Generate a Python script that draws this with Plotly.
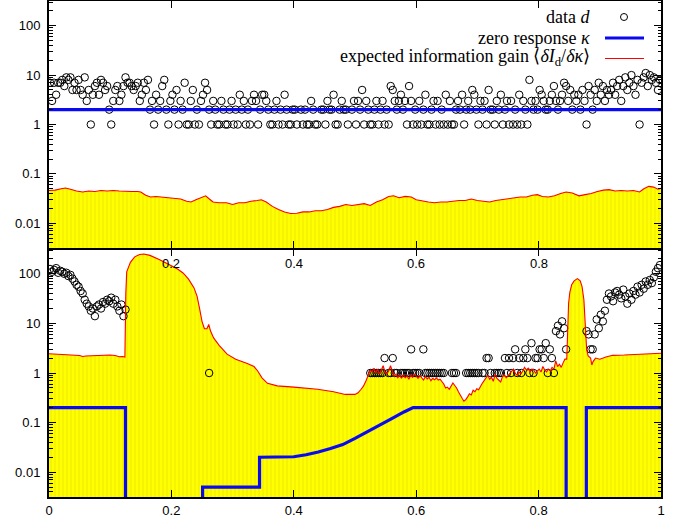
import numpy as np
import plotly.graph_objects as go

# ---------------- data ----------------
N = 300
x_data = (np.arange(N) + 0.5) / N

top_data = (
    [7,3,7,4,7,7,8,6,9,8,9,5,7,5,8,5,4,9,3,5,1,4,6,7,4]
    + [8,7,5,6,2,1,3,5,6,3,4,6,9,7,7,6,5,6,7,3,4,7,5,8,2]
    + [3,1,4,2,3,6,8,2,1,3,4,2,5,1,3,2,7,1,1,3,5,1,2,1,3]
    + [4,7,5,2,1,3,2,1,1,3,2,1,1,2,3,1,2,1,4,2,3,1,2,1,3]
    + [4,3,1,2,4,4,3,2,1,1,2,3,1,2,1,4,2,1,1,2,2,1,0,2,1]
    + [2,1,1,3,2,1,1,0,2,2,1,3,2,2,4,1,1,2,3,2,2,1,0,2,3]
    + [1,3,2,5,1,3,2,1,1,2,3,1,2,3,1,2,1,6,5,3,2,3,4,2,3]
    + [1,6,3,1,2,1,3,1,2,4,1,1,2,3,1,3,1,2,1,4,1,3,1,1,2]
    + [3,2,4,1,2,3,2,5,4,2,1,3,2,3,1,5,2,2,1,3,2,4,1,2,3]
    + [1,3,1,2,1,4,1,3,2,1,8,3,2,3,2,5,4,3,2,2,3,4,6,3,2]
    + [3,4,7,6,3,5,2,4,3,4,2,5,3,1,6,4,2,5,3,7,4,6,3,5,4]
    + [5,7,4,6,8,3,6,9,5,7,10,6,4,8,1,7,9,11,6,10,8,9,7,5,8]
)

bottom_data = (
    [125,110,120,130,105,115,110,100,105,90,95,80,70,60,55,45,40,30,25,22,
     18,20,14,22,24,20,27,25,30,28,33,25,30,22,18,24,14,19]
    + [0] * 40 + [1] + [0] * 78
    + [1,1,1,1,1,1,1,2,0,1,1,2,1,1,0,1,1,1,1,1,3,1,1,1,1,0,3,
       1,1,1,1,1,1,1,1,1,1,0,0,0,1,1,1,0,0,0,0,1,1,1,1,1,1,1,0,1,1,2,2,1,0,
       1,1,1,1,0,
       2,1,2,1,2,3,1,2,1,2,3,2,1,4,1,2,2,3,3,2,4,1,3,2,1,
       7,9,6,11,8,3]
    + [0] * 9
    + [7,6,3,3,6,12,8,15,11,18,30,40,35,28,42,45,38,32,48,35,25,40,30,
       45,38,55,42,60,50,70,60,75,65,85,110,130,150]
)

top_kappa_x = [0.0, 1.0]
top_kappa = [2.0, 2.0]

bottom_kappa_x = [0.0, 0.125, 0.125, 0.251, 0.251, 0.344, 0.344, 0.38, 0.40, 0.42,
                  0.44, 0.46, 0.48, 0.50, 0.52, 0.54, 0.56, 0.58, 0.595,
                  0.845, 0.845, 0.878, 0.878, 1.0]
bottom_kappa = [0.2, 0.2, 0, 0, 0.005, 0.005, 0.02, 0.02, 0.0205, 0.0225,
                0.0255, 0.030, 0.036, 0.048, 0.066, 0.089, 0.12, 0.164, 0.2,
                0.2, 0, 0, 0.2, 0.2]

top_gain_x = [0.000,0.010,0.020,0.027,0.035,0.045,0.055,0.065,0.075,0.085,0.095,0.105,
              0.115,0.125,0.135,0.145,0.150,0.158,0.166,0.175,0.185,0.195,0.205,0.215,
              0.225,0.232,0.240,0.250,0.256,0.262,0.268,0.278,0.290,0.300,0.310,0.320,
              0.330,0.340,0.347,0.355,0.365,0.375,0.385,0.395,0.405,0.415,0.425,0.435,
              0.445,0.455,0.465,0.475,0.485,0.495,0.505,0.515,0.525,0.535,0.545,0.555,
              0.563,0.572,0.582,0.592,0.600,0.610,0.620,0.630,0.640,0.650,0.660,0.670,
              0.680,0.690,0.700,0.710,0.720,0.730,0.740,0.750,0.760,0.770,0.780,0.790,
              0.798,0.806,0.816,0.826,0.836,0.845,0.855,0.866,0.876,0.886,0.896,0.906,
              0.915,0.925,0.935,0.945,0.955,0.965,0.972,0.980,0.988,0.995,1.000]
top_gain = [0.046,0.047,0.050,0.052,0.049,0.045,0.043,0.045,0.044,0.046,0.045,0.046,
            0.045,0.044,0.044,0.044,0.043,0.037,0.034,0.035,0.034,0.034,0.032,0.031,
            0.028,0.027,0.030,0.034,0.036,0.031,0.027,0.026,0.026,0.024,0.026,0.026,
            0.028,0.029,0.030,0.027,0.022,0.019,0.017,0.0158,0.016,0.017,0.017,0.018,
            0.018,0.019,0.021,0.022,0.024,0.023,0.024,0.025,0.023,0.027,0.030,0.035,
            0.036,0.033,0.035,0.034,0.030,0.028,0.027,0.026,0.027,0.027,0.028,0.029,
            0.029,0.031,0.029,0.028,0.027,0.029,0.030,0.031,0.033,0.034,0.034,0.037,
            0.038,0.035,0.034,0.036,0.040,0.043,0.041,0.036,0.038,0.040,0.044,0.047,
            0.048,0.045,0.046,0.045,0.046,0.043,0.050,0.056,0.054,0.049,0.051]

bottom_gain_x = [0.000,0.010,0.020,0.030,0.040,0.050,0.055,0.060,0.070,0.080,0.090,0.100,
                 0.108,0.115,0.120,0.124,0.1255,0.127,0.133,0.140,0.148,0.155,0.165,0.180,
                 0.200,0.210,0.219,0.228,0.237,0.242,0.246,0.250,0.254,0.258,0.261,0.264,
                 0.269,0.278,0.291,0.305,0.324,0.335,0.341,0.348,0.357,0.373,0.400,0.439,
                 0.465,0.484,0.500,
                 0.505,0.510,0.514,0.518,0.522,0.525,0.528,0.531,0.534,0.537,0.540,0.543,
                 0.546,0.549,0.552,0.555,0.558,0.561,0.564,0.567,0.570,0.573,0.576,0.579,
                 0.582,0.585,0.588,0.591,0.594,0.597,0.600,0.603,0.606,0.609,0.612,0.615,
                 0.618,0.621,0.624,0.627,0.630,0.633,0.636,0.639,0.642,0.645,0.648,0.651,
                 0.654,0.657,0.660,0.663,0.666,0.669,0.672,0.675,0.678,0.681,0.684,0.687,
                 0.690,0.693,0.696,0.699,0.702,0.705,0.708,0.711,0.714,0.717,0.720,0.723,
                 0.726,0.729,0.732,0.735,0.738,0.741,0.744,0.747,0.750,0.753,0.756,0.759,
                 0.762,0.765,0.768,0.771,0.774,0.777,0.780,0.783,0.786,0.789,0.792,0.795,
                 0.798,0.801,0.804,0.807,0.810,0.813,0.816,0.819,0.822,0.825,0.828,0.831,
                 0.834,0.837,0.840,0.843,0.846,
                 0.8475,0.849,0.851,0.854,0.858,0.8634,0.868,0.871,0.874,0.876,0.877,0.8785,
                 0.881,0.885,0.887,0.889,0.893,0.900,0.910,0.921,0.940,0.960,0.980,1.000]
bottom_gain = [2.45,2.42,2.38,2.35,2.30,2.25,2.15,2.20,2.22,2.25,2.28,2.30,
               2.25,2.12,2.15,2.10,40,110,170,220,245,250,235,195,
               145,125,104,78,52,35,20,11,7.8,7.8,9.5,7.0,
               5.1,3.6,2.4,1.9,1.55,1.35,1.1,0.8,0.62,0.55,0.52,0.47,
               0.42,0.37,0.37,
               0.40,0.47,0.55,0.70,0.95,1.15,1.05,1.25,1.0,1.2,0.95,1.15,
               1.4,1.05,0.95,1.1,1.4,1.1,0.85,0.95,0.8,0.9,0.78,0.92,
               0.8,0.88,0.75,0.9,0.82,0.95,0.85,0.78,0.88,0.8,0.72,0.85,
               0.76,0.82,0.7,0.78,0.73,0.8,0.72,0.75,0.68,0.6,0.5,0.52,
               0.47,0.55,0.63,0.56,0.5,0.42,0.35,0.31,0.27,0.29,0.33,0.38,
               0.36,0.45,0.42,0.48,0.46,0.55,0.62,0.7,0.78,0.9,0.75,0.82,
               0.68,0.95,0.78,0.72,0.66,0.85,0.92,0.8,0.88,0.95,1.1,1.2,
               0.98,0.9,1.05,0.95,1.1,1.3,1.15,1.25,1.05,1.2,1.15,1.0,
               1.1,1.2,1.05,1.35,1.15,1.05,1.2,1.1,1.3,1.2,1.75,1.35,
               1.5,1.3,1.6,1.9,1.9,
               8,25,42,60,72,80,72,55,30,12,6,3,
               2.2,2.0,1.45,1.7,2.0,1.9,2.1,2.27,2.3,2.35,2.4,2.5]

y_tick_vals = [0.01, 0.1, 1, 10, 100]
y_tick_text = ["0.01", "0.1", "1", "10", "100"]
x_tick_vals = [0, 0.2, 0.4, 0.6, 0.8, 1]
x_tick_text = ["0", "0.2", "0.4", "0.6", "0.8", "1"]
top_x_labels = ["0.2", "0.4", "0.6", "0.8"]
legend_labels = ["data <i>d</i>", "zero response <i>κ</i>",
                 "expected information gain ⟨<i>δI</i><sub>d</sub>/<i>δκ</i>⟩"]

# ---------------- style ----------------
FLOOR = 1e-5
BLUE = "#0a0af0"
RED = "#ff0000"
YELLOW = "#ffff00"
TICKFONT = dict(family="Liberation Sans, Arial, sans-serif", size=13, color="black")
SERIF = dict(family="Liberation Serif, Times New Roman, serif", size=18, color="black")

W, H = 688, 522
L, R, T, B = 49, 27, 1, 25
PW, PH = W - L - R, H - T - B


def px(xp):
    return (xp - L) / PW


def py(yp):
    return (H - B - yp) / PH


fig = go.Figure()


def add_panel(xa, ya, gx, gy, data, kx, ky):
    gx = list(gx)
    gy = list(gy)
    fig.add_trace(go.Scatter(
        x=gx + [gx[-1], gx[0]], y=gy + [FLOOR, FLOOR], mode="lines",
        fill="toself", fillcolor=YELLOW, line=dict(width=0),
        fillpattern=dict(shape="|", size=4, solidity=0.35,
                         fgcolor="#e6e000", bgcolor=YELLOW),
        xaxis=xa, yaxis=ya, hoverinfo="skip", showlegend=False))
    d = np.array(data, dtype=float)
    m = d > 0
    fig.add_trace(go.Scatter(
        x=x_data[m], y=d[m], mode="markers",
        marker=dict(symbol="circle-open", size=7.5, color="black",
                    line=dict(width=1, color="black")),
        xaxis=xa, yaxis=ya, showlegend=False))
    kyp = [k if k > 0 else FLOOR for k in ky]
    fig.add_trace(go.Scatter(
        x=kx, y=kyp, mode="lines", line=dict(color=BLUE, width=3.2),
        xaxis=xa, yaxis=ya, showlegend=False))
    fig.add_trace(go.Scatter(
        x=gx, y=gy, mode="lines", line=dict(color=RED, width=1.1),
        xaxis=xa, yaxis=ya, showlegend=False))


add_panel("x2", "y2", top_gain_x, top_gain, top_data, top_kappa_x, top_kappa)
add_panel("x", "y", bottom_gain_x, bottom_gain, bottom_data, bottom_kappa_x, bottom_kappa)

minor_vals = [m * 10.0 ** e for e in range(-3, 3) for m in range(2, 10)]

yax = dict(type="log", range=[-2.5, 2.5], tickmode="array", tickvals=y_tick_vals,
           ticktext=y_tick_text, ticks="inside", ticklen=7, tickwidth=1,
           tickcolor="black", showline=True, linecolor="black", linewidth=2,
           mirror="allticks", showgrid=False, zeroline=False, tickfont=TICKFONT,
           ticklabelstandoff=4, automargin=False,
           minor=dict(tickmode="array", tickvals=minor_vals, ticks="inside",
                      ticklen=3.5, tickcolor="black", showgrid=False))
xax = dict(range=[0, 1], tickmode="array", tickvals=x_tick_vals, ticktext=x_tick_text,
           ticks="inside", ticklen=7, tickwidth=1, tickcolor="black", showline=True,
           linecolor="black", linewidth=2, mirror="allticks", showgrid=False,
           zeroline=False, tickfont=TICKFONT, automargin=False)

fig.update_layout(
    width=W, height=H, margin=dict(l=L, r=R, t=T, b=B),
    paper_bgcolor="white", plot_bgcolor="white", showlegend=False,
    hovermode=False,
    xaxis=dict(xax, anchor="y"),
    yaxis=dict(yax, domain=[0, 0.5], anchor="x"),
    xaxis2=dict(xax, anchor="y2", showticklabels=False),
    yaxis2=dict(yax, domain=[0.502, 1.0], anchor="x2"),
)

# top panel x tick labels (drawn overlapping the lower panel, like the original)
for v, t in zip(x_tick_vals[1:5], top_x_labels):
    fig.add_annotation(x=v, xref="x2", y=py(263), yref="paper", text=t,
                       showarrow=False, font=TICKFONT, xanchor="center", yanchor="middle")

# legend
rows_y = [17, 37.5, 58]
for lab, yy in zip(legend_labels, rows_y):
    fig.add_annotation(x=px(592), xref="paper", y=py(yy), yref="paper", text=lab,
                       showarrow=False, font=SERIF, xanchor="right", yanchor="middle")
fig.add_shape(type="circle", xref="paper", yref="paper",
              x0=px(620.5), x1=px(627.5), y0=py(20.5), y1=py(13.5),
              line=dict(color="black", width=1))
fig.add_shape(type="line", xref="paper", yref="paper",
              x0=px(605), x1=px(644), y0=py(38), y1=py(38),
              line=dict(color=BLUE, width=3.2))
fig.add_shape(type="line", xref="paper", yref="paper",
              x0=px(605), x1=px(644), y0=py(58.5), y1=py(58.5),
              line=dict(color=RED, width=1.1))

fig.write_html(
    "out.html",
    config={"displayModeBar": False, "staticPlot": True},
    post_script="document.body.style.margin='0';document.body.style.padding='0';"
                "document.documentElement.style.overflow='hidden';",
)
